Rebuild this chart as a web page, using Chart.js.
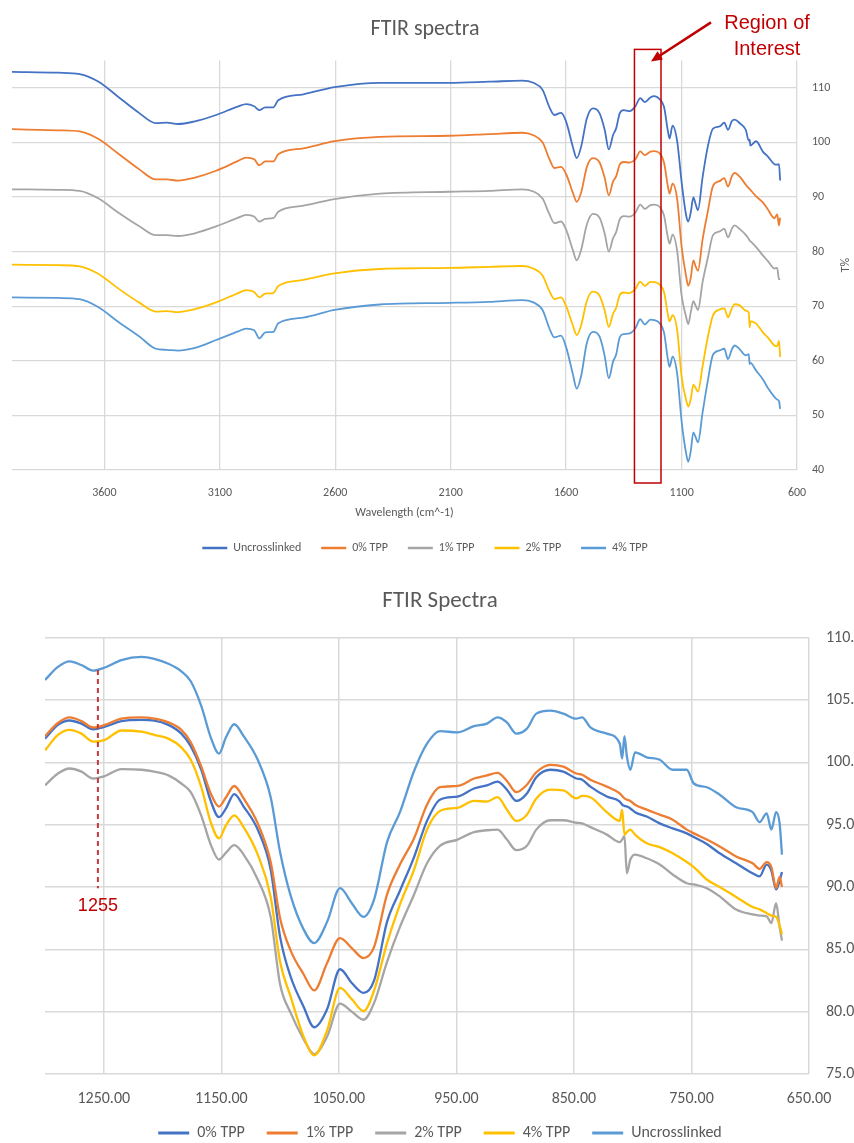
<!DOCTYPE html>
<html>
<head>
<meta charset="utf-8">
<title>FTIR spectra</title>
<script src="https://cdn.jsdelivr.net/npm/chart.js@4/dist/chart.umd.min.js"></script>
<style>
  html, body { margin: 0; padding: 0; background: #fff; }
  .panel { position: relative; width: 854px; }
  #topPanel { height: 575px; }
  #bottomPanel { height: 568px; }
</style>
</head>
<body>
<div class="panel" id="topPanel"><canvas id="fullSpectrum"></canvas></div>
<div class="panel" id="bottomPanel"><canvas id="regionSpectrum"></canvas></div>
<script>
'use strict';

// ---- full range spectra (stacked with offsets) ----
var topWavenumbers = [4000, 3800, 3707, 3625, 3542, 3447, 3377, 3329, 3281, 3212,
  3116, 3020, 2986, 2951, 2929, 2903, 2868, 2847, 2738, 2603,
  2407, 2107, 1933, 1790, 1742, 1702, 1673, 1651, 1622, 1600,
  1571, 1554, 1535, 1510, 1484, 1455, 1433, 1415, 1397, 1383,
  1368, 1351, 1325, 1300, 1279, 1259, 1235, 1218, 1195, 1176,
  1159, 1152, 1139, 1119, 1100, 1080, 1071, 1060, 1049, 1039,
  1029, 1009, 986, 964, 935, 915, 899, 882, 870, 848,
  822, 809, 805, 802, 777, 748, 726, 698, 686, 678,
  673];

var topUncrosslinked = [112.9, 112.75, 112.5, 111.1, 108.4, 105.3, 103.5, 103.6, 103.35, 103.8,
  105.0, 106.6, 107.0, 106.6, 105.9, 106.4, 106.4, 107.7, 108.8, 110.1,
  110.9, 110.9, 111.1, 111.3, 110.9, 109.6, 106.5, 105.0, 105.4, 103.8,
  99.2, 97.1, 99.2, 104.4, 106.2, 105.3, 102.3, 98.7, 101.3, 102.6,
  105.3, 105.9, 105.7, 106.6, 108.1, 107.35, 108.2, 108.45, 107.9, 106.5,
  102.0, 100.7, 103.05, 100.2, 92.8, 86.6, 85.5, 87.2, 89.9, 88.7,
  87.6, 93.6, 99.3, 102.5, 102.9, 103.6, 102.3, 103.9, 104.15, 103.5,
  102.3, 100.3, 100.5, 99.4, 100.2, 98.3, 97.4, 96.0, 95.9, 96.0,
  93.0];

var topTpp0 = [102.4, 102.2, 102.0, 100.6, 98.0, 95.0, 93.2, 93.2, 93.0, 93.5,
  94.8, 96.6, 97.2, 96.9, 95.8, 96.5, 96.5, 97.8, 98.9, 100.2,
  101.0, 101.2, 101.5, 101.75, 101.3, 100.0, 97.0, 95.3, 95.5, 94.2,
  90.8, 89.1, 90.8, 95.5, 97.1, 96.3, 93.5, 90.3, 92.8, 93.8,
  95.9, 96.4, 96.3, 96.9, 98.35, 97.65, 98.3, 98.4, 98.0, 96.3,
  91.9, 90.6, 92.45, 89.6, 81.0, 75.4, 73.75, 75.2, 78.4, 77.3,
  76.5, 82.2, 87.4, 92.0, 92.9, 93.45, 91.9, 93.8, 94.4, 93.7,
  92.25, 91.6, 91.45, 91.3, 90.1, 89.0, 87.7, 86.1, 86.8, 84.8,
  86.2];

var topTpp1 = [91.4, 91.3, 91.1, 89.7, 87.2, 84.6, 83.0, 83.0, 82.85, 83.3,
  84.6, 86.2, 86.7, 86.4, 85.5, 86.0, 86.1, 87.3, 88.4, 89.6,
  90.6, 90.95, 91.1, 91.4, 91.0, 89.7, 86.9, 85.2, 85.5, 84.0,
  80.3, 78.4, 80.3, 85.0, 86.9, 86.2, 83.3, 80.0, 82.4, 83.6,
  85.9, 86.5, 86.4, 87.1, 88.6, 87.8, 88.5, 88.6, 88.2, 86.6,
  82.5, 81.45, 83.1, 80.1, 72.0, 68.0, 66.7, 68.9, 70.9, 70.1,
  69.3, 74.4, 78.9, 83.0, 83.7, 84.15, 82.6, 84.2, 84.8, 84.1,
  83.05, 82.3, 82.0, 81.9, 80.8, 79.3, 78.25, 76.9, 77.0, 74.9,
  75.0];

var topTpp2 = [77.6, 77.5, 77.3, 75.9, 73.3, 70.6, 69.0, 69.1, 68.9, 69.4,
  70.7, 72.4, 72.95, 72.6, 71.6, 72.3, 72.4, 73.7, 74.8, 76.0,
  76.8, 77.0, 77.2, 77.35, 76.9, 75.6, 72.8, 71.3, 71.6, 70.0,
  66.5, 64.7, 66.5, 71.0, 72.65, 71.9, 69.2, 66.2, 68.6, 69.7,
  72.0, 72.5, 72.4, 73.15, 74.5, 73.7, 74.45, 74.4, 73.95, 72.6,
  68.4, 67.2, 68.35, 65.6, 57.2, 52.8, 51.6, 53.0, 55.65, 55.0,
  54.35, 59.0, 64.4, 68.3, 69.4, 69.6, 67.95, 69.6, 70.35, 70.15,
  69.2, 68.8, 66.1, 67.2, 66.8, 65.2, 64.25, 62.8, 62.65, 63.7,
  60.7];

var topTpp4 = [71.6, 71.5, 71.3, 69.8, 67.2, 64.4, 62.2, 62.0, 61.85, 62.3,
  63.8, 65.4, 65.9, 65.6, 64.1, 65.2, 65.3, 66.85, 67.9, 69.3,
  70.3, 70.6, 70.8, 71.1, 70.7, 69.3, 66.0, 64.3, 64.6, 62.5,
  57.6, 54.9, 57.2, 63.3, 65.3, 64.4, 60.9, 56.8, 59.8, 61.2,
  64.3, 64.9, 65.0, 65.95, 67.6, 66.65, 67.55, 67.45, 66.9, 65.2,
  60.2, 58.9, 60.75, 57.6, 49.0, 43.0, 41.5, 43.5, 46.9, 46.0,
  45.05, 50.5, 56.4, 61.1, 61.9, 62.2, 60.3, 62.1, 62.8, 62.1,
  61.0, 61.2, 59.4, 59.6, 58.2, 56.6, 55.0, 53.4, 52.9, 52.6,
  51.2];

var topXTicks = [600, 1100, 1600, 2100, 2600, 3100, 3600];
var topYTicks = [40, 50, 60, 70, 80, 90, 100, 110];
var roiBand = [1304, 1189];

// ---- 1300-650 cm^-1 close-up ----
var bottomWavenumbers = [1300, 1289, 1279, 1269, 1259, 1249, 1235, 1218, 1207, 1195,
  1184, 1176, 1167, 1159, 1152, 1146, 1139, 1131, 1119, 1108,
  1100, 1091, 1080, 1071, 1060, 1049, 1039, 1029, 1020, 1009,
  998, 986, 975, 964, 949, 935, 924, 915, 907, 899,
  890, 882, 870, 859, 848, 843, 836, 822, 811, 809,
  807, 805, 802, 798, 788, 777, 766, 754, 748, 737,
  726, 712, 698, 692, 686, 682, 678, 675, 673];

var bottomTpp0 = [101.9, 103.0, 103.35, 103.1, 102.65, 102.85, 103.3, 103.4, 103.35, 103.0,
  102.3, 101.3, 99.4, 96.9, 95.6, 96.3, 97.45, 96.45, 94.6, 91.4,
  86.0, 82.8, 80.4, 78.75, 80.2, 83.4, 82.3, 81.5, 82.5, 87.2,
  89.7, 92.4, 95.3, 97.0, 97.25, 97.9, 98.15, 98.45, 97.8, 96.9,
  97.5, 98.8, 99.4, 99.25, 98.7, 98.6, 98.05, 97.25, 96.85, 96.6,
  96.5, 96.45, 96.3, 96.0, 95.65, 95.1, 94.7, 94.3, 94.0, 93.45,
  92.7, 91.9, 91.1, 90.85, 91.8, 91.3, 89.8, 90.5, 91.2];

var bottomTpp1 = [102.1, 103.15, 103.6, 103.3, 102.8, 103.0, 103.5, 103.6, 103.5, 103.2,
  102.6, 101.6, 99.65, 97.5, 96.45, 97.2, 98.1, 97.1, 95.1, 92.0,
  87.5, 84.9, 83.0, 81.7, 83.9, 85.9, 85.1, 84.3, 85.2, 89.4,
  91.8, 93.9, 96.6, 98.0, 98.1, 98.7, 98.95, 99.15, 98.5, 97.6,
  98.2, 99.2, 99.8, 99.65, 99.1, 99.0, 98.6, 98.05, 97.5, 97.3,
  97.1, 97.0, 96.9, 96.6, 96.2, 95.8, 95.4, 94.6, 94.3, 93.8,
  93.25, 92.45, 91.9, 91.45, 92.0, 91.6, 89.9, 90.8, 90.0];

var bottomTpp2 = [98.15, 99.1, 99.5, 99.25, 98.7, 98.9, 99.45, 99.4, 99.25, 98.95,
  98.3, 97.6, 95.7, 93.4, 92.2, 92.75, 93.35, 92.6, 90.6, 87.6,
  82.2, 79.9, 77.8, 76.6, 78.0, 80.65, 80.0, 79.35, 80.7, 84.0,
  86.8, 89.4, 91.9, 93.3, 93.8, 94.4, 94.55, 94.6, 93.8, 92.95,
  93.3, 94.6, 95.35, 95.35, 95.15, 95.1, 94.8, 94.2, 93.6, 93.8,
  94.1, 91.1, 92.2, 92.6, 92.3, 91.8, 91.0, 90.3, 90.2, 89.9,
  89.25, 88.2, 87.8, 87.7, 87.65, 87.1, 88.7, 86.8, 85.7];

var bottomTpp4 = [100.95, 102.2, 102.6, 102.3, 101.65, 101.8, 102.55, 102.45, 102.2, 101.9,
  101.2, 100.2, 98.0, 95.2, 93.9, 94.95, 95.75, 94.8, 92.6, 89.2,
  84.0, 81.2, 78.0, 76.5, 78.5, 81.9, 81.0, 80.05, 81.7, 85.5,
  88.6, 91.4, 94.6, 96.1, 96.35, 96.9, 96.85, 97.2, 96.2, 95.3,
  95.8, 97.1, 97.8, 97.75, 97.1, 97.3, 97.2, 96.0, 95.3, 96.2,
  94.2, 94.4, 94.6, 94.2, 93.5, 93.2, 92.7, 92.0, 91.6, 90.6,
  90.0, 89.2, 88.4, 88.2, 87.9, 87.7, 87.6, 86.9, 86.2];

var bottomUncrosslinked = [106.6, 107.65, 108.1, 107.8, 107.35, 107.6, 108.2, 108.45, 108.3, 107.9,
  107.3, 106.5, 104.5, 102.0, 100.7, 102.0, 103.05, 102.1, 100.2, 97.2,
  92.8, 89.3, 86.6, 85.5, 87.2, 89.9, 88.7, 87.6, 89.0, 93.6,
  96.0, 99.3, 101.5, 102.5, 102.4, 102.9, 103.1, 103.6, 103.2, 102.3,
  102.7, 103.9, 104.15, 103.9, 103.5, 103.6, 102.8, 102.3, 101.5, 100.3,
  102.1, 100.5, 99.4, 100.8, 100.4, 100.2, 99.4, 99.4, 98.3, 98.0,
  97.4, 96.4, 96.0, 95.2, 95.9, 94.6, 96.0, 95.1, 92.6];

var bottomXTicks = [650, 750, 850, 950, 1050, 1150, 1250];
var bottomYTicks = [75, 80, 85, 90, 95, 100, 105, 110];
var markerWavenumber = 1255;
var markerTop = 107.4;
var markerBottom = 89.9;

// office palette
var darkBlue = '#4472C4';
var orange = '#ED7D31';
var gray = '#A5A5A5';
var gold = '#FFC000';
var lightBlue = '#5B9BD5';
var annotationRed = '#C00000';
var textGray = '#595959';
var gridGray = '#D9D9D9';
var uiFont = 'Carlito, Lato, "Open Sans", sans-serif';
var noteFont = '"Liberation Sans", Arial, sans-serif';

Chart.defaults.font.family = uiFont;
Chart.defaults.color = textGray;

function toPoints(xs, ys) {
  return xs.map(function(x, i) {
    return { x: x, y: ys[i] };
  });
}

// later series are painted over earlier ones, legend keeps data order
function series(label, color, xs, ys, width, index, count) {
  return {
    label: label,
    data: toPoints(xs, ys),
    borderColor: color,
    backgroundColor: color,
    borderWidth: width,
    pointRadius: 0,
    cubicInterpolationMode: 'monotone',
    order: count - index
  };
}

function legendOptions(fontSize, lineLength, lineWidth, gap) {
  return {
    position: 'bottom',
    labels: {
      usePointStyle: true,
      pointStyle: 'line',
      pointStyleWidth: lineLength,
      padding: gap,
      color: textGray,
      font: { size: fontSize },
      sort: function(a, b) { return a.datasetIndex - b.datasetIndex; },
      generateLabels: function(chart) {
        var items = Chart.defaults.plugins.legend.labels.generateLabels(chart);
        items.forEach(function(item) { item.lineWidth = lineWidth; });
        return items;
      }
    }
  };
}

function fixedTicks(values) {
  return function(scale) {
    scale.ticks = values.map(function(v) { return { value: v }; });
  };
}

// red box + arrow around 1300-1190 and the rotated T% axis name
var roiPlugin = {
  id: 'roiBox',
  afterDraw: function(chart) {
    var ctx = chart.ctx;
    var area = chart.chartArea;
    var left = chart.scales.x.getPixelForValue(roiBand[0]);
    var right = chart.scales.x.getPixelForValue(roiBand[1]);
    var top = area.top - 11;
    var bottom = area.bottom + 13;

    ctx.save();
    ctx.strokeStyle = annotationRed;
    ctx.fillStyle = annotationRed;
    ctx.lineWidth = 1.5;
    ctx.strokeRect(left, top, right - left, bottom - top);

    var tipX = right - 10, tipY = top + 12;
    var tailX = right + 50, tailY = top - 27;
    var ang = Math.atan2(tipY - tailY, tipX - tailX);
    var c = Math.cos(ang), s = Math.sin(ang);
    ctx.lineWidth = 2.5;
    ctx.beginPath();
    ctx.moveTo(tailX, tailY);
    ctx.lineTo(tipX - 8 * c, tipY - 8 * s);
    ctx.stroke();
    ctx.beginPath();
    ctx.moveTo(tipX, tipY);
    ctx.lineTo(tipX - 11 * c + 5 * s, tipY - 11 * s - 5 * c);
    ctx.lineTo(tipX - 11 * c - 5 * s, tipY - 11 * s + 5 * c);
    ctx.closePath();
    ctx.fill();

    ctx.font = '20px ' + noteFont;
    ctx.textAlign = 'center';
    ctx.textBaseline = 'alphabetic';
    ctx.fillText('Region of', right + 106, top - 20);
    ctx.fillText('Interest', right + 106, top + 6);

    ctx.fillStyle = textGray;
    ctx.font = '12px ' + uiFont;
    ctx.textBaseline = 'middle';
    ctx.translate(area.right + 49, (area.top + area.bottom) / 2);
    ctx.rotate(-Math.PI / 2);
    ctx.fillText('T%', 0, 0);
    ctx.restore();
  }
};

// dashed marker at the 1255 cm^-1 band; the value axis is allowed to run
// off the right edge of the canvas so its labels get cut by the page edge
var markerPlugin = {
  id: 'peakMarker',
  afterLayout: function(chart) {
    chart.scales.y.right = chart.width;
  },
  afterDatasetsDraw: function(chart) {
    var ctx = chart.ctx;
    var x = chart.scales.x.getPixelForValue(markerWavenumber);
    var y1 = chart.scales.y.getPixelForValue(markerTop);
    var y2 = chart.scales.y.getPixelForValue(markerBottom);
    ctx.save();
    ctx.strokeStyle = '#C8373A';
    ctx.lineWidth = 2;
    ctx.setLineDash([5, 4]);
    ctx.beginPath();
    ctx.moveTo(x, y1);
    ctx.lineTo(x, y2);
    ctx.stroke();
    ctx.setLineDash([]);
    ctx.fillStyle = annotationRed;
    ctx.font = '18px ' + noteFont;
    ctx.textAlign = 'center';
    ctx.textBaseline = 'middle';
    ctx.fillText(String(markerWavenumber), x, y2 + 18);
    ctx.restore();
  }
};

var topSeries = [
  ['Uncrosslinked', darkBlue, topUncrosslinked],
  ['0% TPP', orange, topTpp0],
  ['1% TPP', gray, topTpp1],
  ['2% TPP', gold, topTpp2],
  ['4% TPP', lightBlue, topTpp4]
];

new Chart(document.getElementById('fullSpectrum'), {
  type: 'line',
  data: {
    datasets: topSeries.map(function(d, i) {
      return series(d[0], d[1], topWavenumbers, d[2], 1.8, i, topSeries.length);
    })
  },
  options: {
    responsive: true,
    maintainAspectRatio: false,
    animation: false,
    layout: { padding: { left: 12, right: 16, top: 0, bottom: 11 } },
    plugins: {
      title: {
        display: true,
        text: 'FTIR spectra',
        color: textGray,
        font: { size: 22, weight: 'normal' },
        padding: { top: 16, bottom: 18 }
      },
      legend: legendOptions(12, 25, 2.5, 20),
      tooltip: { enabled: false }
    },
    scales: {
      x: {
        type: 'linear',
        reverse: true,
        min: 600,
        max: 4000,
        afterBuildTicks: fixedTicks(topXTicks),
        afterFit: function(scale) { scale.height = 52; },
        grid: { color: gridGray, lineWidth: 1.3, drawTicks: false },
        border: { display: false },
        ticks: {
          padding: 16,
          color: textGray,
          font: { size: 12 },
          maxRotation: 0,
          autoSkip: false,
          callback: function(v) { return String(v); }
        },
        title: {
          display: true,
          text: 'Wavelength (cm^-1)',
          color: textGray,
          font: { size: 12 },
          padding: { top: 4, bottom: 2 }
        }
      },
      y: {
        position: 'right',
        min: 40,
        max: 115,
        afterBuildTicks: fixedTicks(topYTicks),
        afterFit: function(scale) { scale.width = 41; },
        grid: { color: gridGray, lineWidth: 1.3, drawTicks: false },
        border: { display: false },
        ticks: { padding: 15, color: textGray, font: { size: 12 } }
      }
    }
  },
  plugins: [roiPlugin]
});

var bottomSeries = [
  ['0% TPP', darkBlue, bottomTpp0],
  ['1% TPP', orange, bottomTpp1],
  ['2% TPP', gray, bottomTpp2],
  ['4% TPP', gold, bottomTpp4],
  ['Uncrosslinked', lightBlue, bottomUncrosslinked]
];

new Chart(document.getElementById('regionSpectrum'), {
  type: 'line',
  data: {
    datasets: bottomSeries.map(function(d, i) {
      return series(d[0], d[1], bottomWavenumbers, d[2], 2.3, i, bottomSeries.length);
    })
  },
  options: {
    responsive: true,
    maintainAspectRatio: false,
    animation: false,
    layout: { padding: { left: 45, right: 19, top: 0, bottom: -8 } },
    plugins: {
      title: {
        display: true,
        text: 'FTIR Spectra',
        color: textGray,
        font: { size: 23, weight: 'normal' },
        padding: { top: 12, bottom: 23 }
      },
      legend: legendOptions(16, 31, 3, 22),
      tooltip: { enabled: false }
    },
    scales: {
      x: {
        type: 'linear',
        reverse: true,
        min: 650,
        max: 1300,
        afterBuildTicks: fixedTicks(bottomXTicks),
        afterFit: function(scale) { scale.height = 29; },
        grid: { color: gridGray, lineWidth: 1.5, drawTicks: false },
        border: { display: false },
        ticks: {
          padding: 15,
          color: textGray,
          font: { size: 16 },
          maxRotation: 0,
          autoSkip: false,
          callback: function(v) { return Number(v).toFixed(2); }
        }
      },
      y: {
        position: 'right',
        min: 75,
        max: 110,
        afterBuildTicks: fixedTicks(bottomYTicks),
        afterFit: function(scale) { scale.width = 26; },
        grid: { color: gridGray, lineWidth: 1.5, drawTicks: false },
        border: { display: false },
        ticks: {
          padding: 17,
          color: textGray,
          font: { size: 16 },
          callback: function(v) { return Number(v).toFixed(2); }
        }
      }
    }
  },
  plugins: [markerPlugin]
});
</script>
</body>
</html>
